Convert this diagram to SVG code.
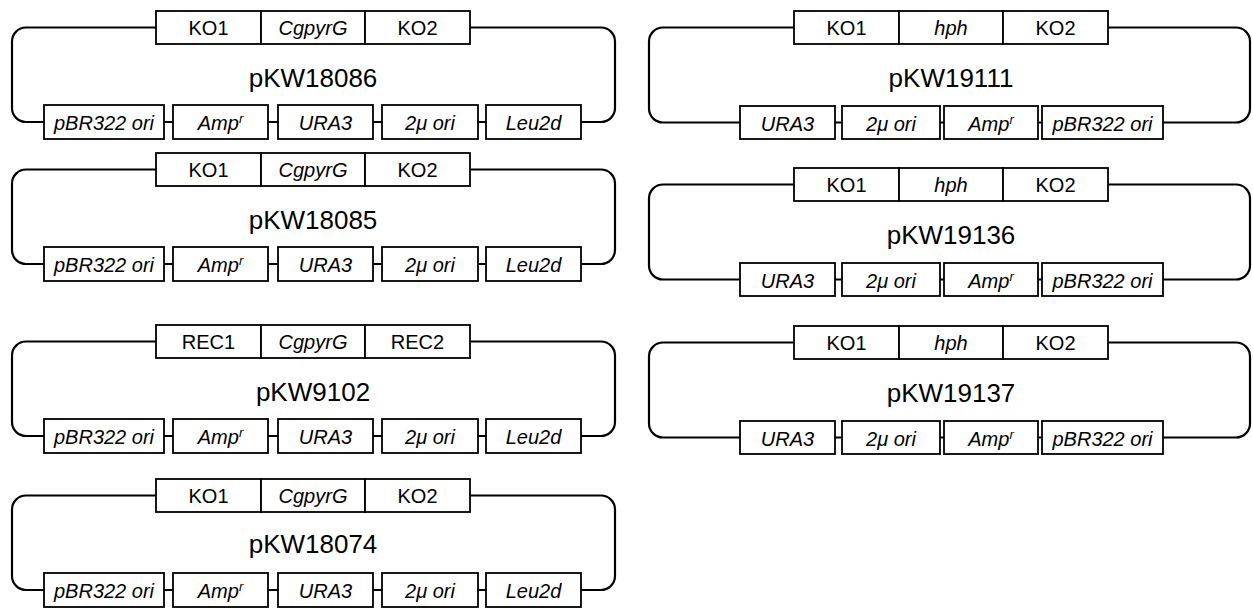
<svg xmlns="http://www.w3.org/2000/svg" width="1253" height="608" viewBox="0 0 1253 608">
<style>
rect{fill:#fff;stroke:#000;stroke-width:1.8}
.loop{fill:none;stroke:#000;stroke-width:2.2}
text{font-family:"Liberation Sans",Arial,sans-serif;fill:#000;text-anchor:middle}
.t{font-size:20px}
.b{font-size:20px;font-style:italic}
.n{font-size:26px}
.s{font-size:13px}
</style>
<defs>
<path id="Lloop" class="loop" fill="none" stroke="#000" stroke-width="2.2" d="M156 16.5H26A14 14 0 0 0 12 30.5V97A14 14 0 0 0 26 111H44M470 16.5H601A14 14 0 0 1 615 30.5V97A14 14 0 0 1 601 111H581M164 111H173M268 111H278M373 111H382M478 111H486"/>
<path id="Rloop" class="loop" fill="none" stroke="#000" stroke-width="2.2" d="M794 16.5H663A14 14 0 0 0 649 30.5V97.5A14 14 0 0 0 663 111.5H740M1108 16.5H1236A14 14 0 0 1 1250 30.5V97.5A14 14 0 0 1 1236 111.5H1163M835 111.5H842M940 111.5H944M1038 111.5H1042"/>
</defs>

<!-- Left column -->
<g id="pKW18086" transform="translate(0,11)">
<g class="connectors"><use href="#Lloop"/></g>
<g id="pKW18086-top"><rect x="156" y="0" width="105" height="33"/><text class="t" x="208.5" y="24">KO1</text><rect x="261" y="0" width="104" height="33"/><text class="t" x="313" y="24" font-style="italic">CgpyrG</text><rect x="365" y="0" width="105" height="33"/><text class="t" x="417.5" y="24">KO2</text></g>
<text class="n" x="313" y="76">pKW18086</text>
<g id="pKW18086-bottom"><rect x="44" y="94" width="120" height="34"/><text class="b" x="104" y="119">pBR322 ori</text><rect x="173" y="94" width="95" height="34"/><text class="b" x="220.5" y="119">Amp<tspan class="s" dy="-7">r</tspan></text><rect x="278" y="94" width="95" height="34"/><text class="b" x="325.5" y="119">URA3</text><rect x="382" y="94" width="96" height="34"/><text class="b" x="430" y="119">2μ ori</text><rect x="486" y="94" width="95" height="34"/><text class="b" x="533.5" y="119">Leu2d</text></g>
</g>

<g id="pKW18085" transform="translate(0,153)">
<g class="connectors"><use href="#Lloop"/></g>
<g id="pKW18085-top"><rect x="156" y="0" width="105" height="33"/><text class="t" x="208.5" y="24">KO1</text><rect x="261" y="0" width="104" height="33"/><text class="t" x="313" y="24" font-style="italic">CgpyrG</text><rect x="365" y="0" width="105" height="33"/><text class="t" x="417.5" y="24">KO2</text></g>
<text class="n" x="313" y="76">pKW18085</text>
<g id="pKW18085-bottom"><rect x="44" y="94" width="120" height="34"/><text class="b" x="104" y="119">pBR322 ori</text><rect x="173" y="94" width="95" height="34"/><text class="b" x="220.5" y="119">Amp<tspan class="s" dy="-7">r</tspan></text><rect x="278" y="94" width="95" height="34"/><text class="b" x="325.5" y="119">URA3</text><rect x="382" y="94" width="96" height="34"/><text class="b" x="430" y="119">2μ ori</text><rect x="486" y="94" width="95" height="34"/><text class="b" x="533.5" y="119">Leu2d</text></g>
</g>

<g id="pKW9102" transform="translate(0,325)">
<g class="connectors"><use href="#Lloop"/></g>
<g id="pKW9102-top"><rect x="156" y="0" width="105" height="33"/><text class="t" x="208.5" y="24">REC1</text><rect x="261" y="0" width="104" height="33"/><text class="t" x="313" y="24" font-style="italic">CgpyrG</text><rect x="365" y="0" width="105" height="33"/><text class="t" x="417.5" y="24">REC2</text></g>
<text class="n" x="313" y="76">pKW9102</text>
<g id="pKW9102-bottom"><rect x="44" y="94" width="120" height="34"/><text class="b" x="104" y="119">pBR322 ori</text><rect x="173" y="94" width="95" height="34"/><text class="b" x="220.5" y="119">Amp<tspan class="s" dy="-7">r</tspan></text><rect x="278" y="94" width="95" height="34"/><text class="b" x="325.5" y="119">URA3</text><rect x="382" y="94" width="96" height="34"/><text class="b" x="430" y="119">2μ ori</text><rect x="486" y="94" width="95" height="34"/><text class="b" x="533.5" y="119">Leu2d</text></g>
</g>

<g id="pKW18074" transform="translate(0,479)">
<g class="connectors"><use href="#Lloop"/></g>
<g id="pKW18074-top"><rect x="156" y="0" width="105" height="33"/><text class="t" x="208.5" y="24">KO1</text><rect x="261" y="0" width="104" height="33"/><text class="t" x="313" y="24" font-style="italic">CgpyrG</text><rect x="365" y="0" width="105" height="33"/><text class="t" x="417.5" y="24">KO2</text></g>
<text class="n" x="313" y="74">pKW18074</text>
<g id="pKW18074-bottom"><rect x="44" y="94" width="120" height="34"/><text class="b" x="104" y="119">pBR322 ori</text><rect x="173" y="94" width="95" height="34"/><text class="b" x="220.5" y="119">Amp<tspan class="s" dy="-7">r</tspan></text><rect x="278" y="94" width="95" height="34"/><text class="b" x="325.5" y="119">URA3</text><rect x="382" y="94" width="96" height="34"/><text class="b" x="430" y="119">2μ ori</text><rect x="486" y="94" width="95" height="34"/><text class="b" x="533.5" y="119">Leu2d</text></g>
</g>

<!-- Right column -->
<g id="pKW19111" transform="translate(0,11)">
<g class="connectors"><use href="#Rloop"/></g>
<g id="pKW19111-top"><rect x="794" y="0" width="105" height="33"/><text class="t" x="846.5" y="24">KO1</text><rect x="899" y="0" width="104" height="33"/><text class="t" x="951" y="24" font-style="italic">hph</text><rect x="1003" y="0" width="105" height="33"/><text class="t" x="1055.5" y="24">KO2</text></g>
<text class="n" x="951" y="76">pKW19111</text>
<g id="pKW19111-bottom"><rect x="740" y="95" width="95" height="33"/><text class="b" x="787.5" y="119.5">URA3</text><rect x="842" y="95" width="98" height="33"/><text class="b" x="891" y="119.5">2μ ori</text><rect x="944" y="95" width="94" height="33"/><text class="b" x="991" y="119.5">Amp<tspan class="s" dy="-7">r</tspan></text><rect x="1042" y="95" width="121" height="33"/><text class="b" x="1102.5" y="119.5">pBR322 ori</text></g>
</g>

<g id="pKW19136" transform="translate(0,168)">
<g class="connectors"><use href="#Rloop"/></g>
<g id="pKW19136-top"><rect x="794" y="0" width="105" height="33"/><text class="t" x="846.5" y="24">KO1</text><rect x="899" y="0" width="104" height="33"/><text class="t" x="951" y="24" font-style="italic">hph</text><rect x="1003" y="0" width="105" height="33"/><text class="t" x="1055.5" y="24">KO2</text></g>
<text class="n" x="951" y="76">pKW19136</text>
<g id="pKW19136-bottom"><rect x="740" y="95" width="95" height="33"/><text class="b" x="787.5" y="119.5">URA3</text><rect x="842" y="95" width="98" height="33"/><text class="b" x="891" y="119.5">2μ ori</text><rect x="944" y="95" width="94" height="33"/><text class="b" x="991" y="119.5">Amp<tspan class="s" dy="-7">r</tspan></text><rect x="1042" y="95" width="121" height="33"/><text class="b" x="1102.5" y="119.5">pBR322 ori</text></g>
</g>

<g id="pKW19137" transform="translate(0,326)">
<g class="connectors"><use href="#Rloop"/></g>
<g id="pKW19137-top"><rect x="794" y="0" width="105" height="33"/><text class="t" x="846.5" y="24">KO1</text><rect x="899" y="0" width="104" height="33"/><text class="t" x="951" y="24" font-style="italic">hph</text><rect x="1003" y="0" width="105" height="33"/><text class="t" x="1055.5" y="24">KO2</text></g>
<text class="n" x="951" y="76">pKW19137</text>
<g id="pKW19137-bottom"><rect x="740" y="95" width="95" height="33"/><text class="b" x="787.5" y="119.5">URA3</text><rect x="842" y="95" width="98" height="33"/><text class="b" x="891" y="119.5">2μ ori</text><rect x="944" y="95" width="94" height="33"/><text class="b" x="991" y="119.5">Amp<tspan class="s" dy="-7">r</tspan></text><rect x="1042" y="95" width="121" height="33"/><text class="b" x="1102.5" y="119.5">pBR322 ori</text></g>
</g>
</svg>
